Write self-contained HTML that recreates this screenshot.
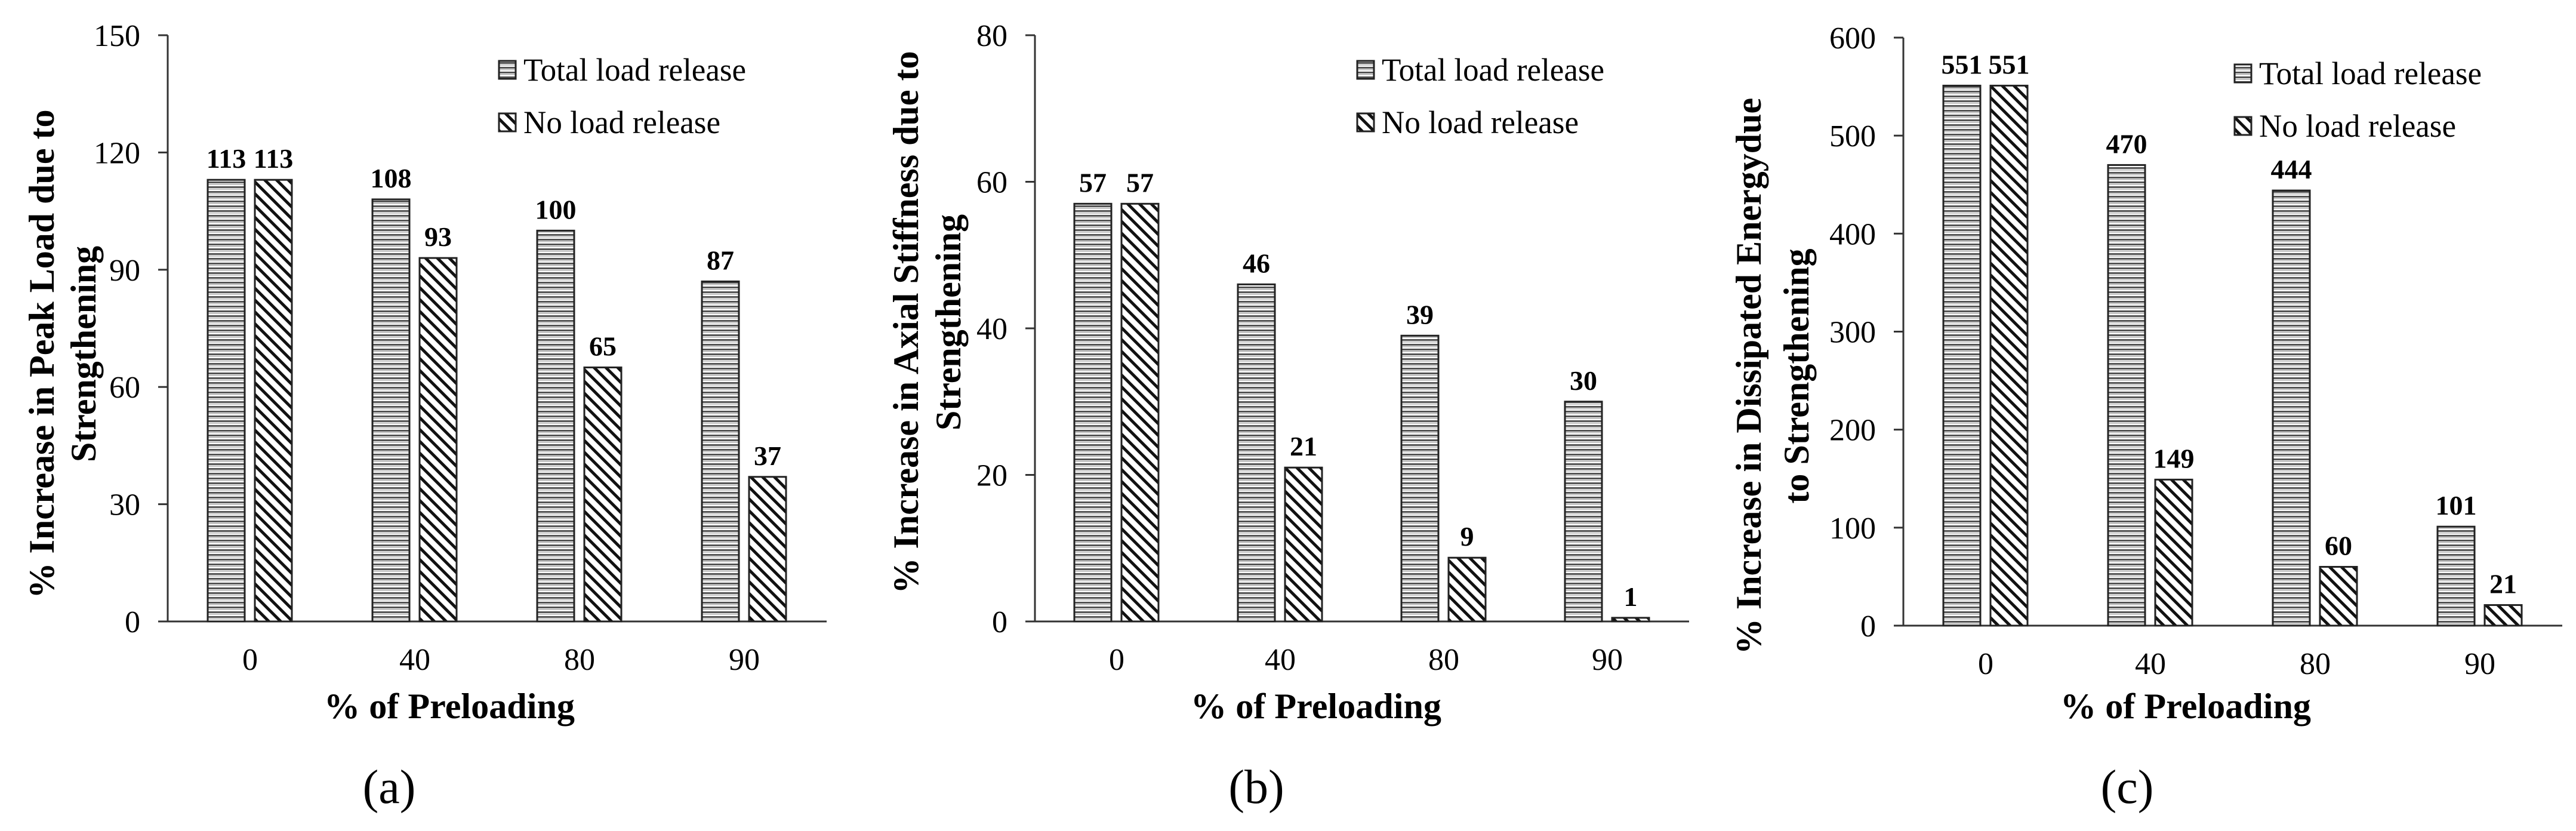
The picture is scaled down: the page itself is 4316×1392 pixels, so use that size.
<!DOCTYPE html>
<html><head><meta charset="utf-8"><style>
html,body{margin:0;padding:0;background:#fff;}
svg{display:block;font-family:"Liberation Serif","DejaVu Serif",serif;}
svg text{font-family:"Liberation Serif","DejaVu Serif",serif;fill:#000;}
</style></head><body>
<svg id="fig" width="4316" height="1392" viewBox="0 0 4316 1392" xmlns="http://www.w3.org/2000/svg" font-family="Liberation Serif, DejaVu Serif, serif">
<defs>
<pattern id="hpat" patternUnits="userSpaceOnUse" width="8" height="8">
<rect width="8" height="8" fill="#fff"/>
<rect y="0" width="8" height="3" fill="#555"/>
<rect y="4" width="8" height="1.5" fill="#aaa"/>
</pattern>
<pattern id="dpat" patternUnits="userSpaceOnUse" width="14" height="14" patternTransform="rotate(-45)">
<rect width="14" height="14" fill="#fff"/>
<rect x="0" width="5" height="14" fill="#111"/>
</pattern>
</defs>
</svg>
<script>
const categories = ["0","40","80","90"];
const seriesNames = ["Total load release","No load release"];
const aTotal = [113,108,100,87];
const aNo = [113,93,65,37];
const aTicks = [0,30,60,90,120,150];
const bTotal = [57,46,39,30];
const bNo = [57,21,8.7,0.5];
const bTicks = [0,20,40,60,80];
const cTotal = [551,470,444,101];
const cNo = [551,149,60,21];
const cTicks = [0,100,200,300,400,500,600];

const NS = "http://www.w3.org/2000/svg";
const FONT = "Liberation Serif, DejaVu Serif, serif";
const svg = document.getElementById("fig");
function mk(tag, attrs, parent, txt){
  const e = document.createElementNS(NS, tag);
  for (const k in attrs) e.setAttribute(k, attrs[k]);
  if (tag === "text") e.setAttribute("font-family", FONT);
  if (txt !== undefined) e.textContent = txt;
  (parent||svg).appendChild(e);
  return e;
}
function chart(cfg){
  const g = mk("g", {});
  
  
  const ymax = cfg.ticks[cfg.ticks.length-1];
  const yScale = v => cfg.y0 - (v/ymax)*(cfg.y0-cfg.yTop);
  const cw = (cfg.x1-cfg.x0)/categories.length;
  const xCenter = i => cfg.x0 + cw*(i+0.5);
  const ya = mk("line",{x1:cfg.x0,y1:cfg.yTop,x2:cfg.x0,y2:cfg.y0,stroke:"#333","stroke-width":3},g);
  
  
  const xa = mk("line",{x1:cfg.x0-16,y1:cfg.y0,x2:cfg.x1,y2:cfg.y0,stroke:"#333","stroke-width":3},g);
  
  
  cfg.ticks.forEach(t=>{
    const y = yScale(t);
    const tm = mk("line",{x1:cfg.x0-16,y1:y,x2:cfg.x0,y2:y,stroke:"#333","stroke-width":3},g);
    
    
    const tl = mk("text",{x:cfg.x0-46,y:y+18,"text-anchor":"end","font-size":52},g,String(t));
    
    
  });
  categories.forEach((c,i)=>{
    const cx = xCenter(i);
    const xl = mk("text",{x:cx,y:cfg.y0+81,"text-anchor":"middle","font-size":52},g,c);
    
    
    [[cfg.s1,"url(#hpat)",-71,"bar-total-load-release"],[cfg.s2,"url(#dpat)",8,"bar-no-load-release"]].forEach(([arr,fill,off,nm])=>{
      const v = arr[i];
      const yt = yScale(v);
      const r = mk("rect",{x:cx+off,y:yt,width:62,height:cfg.y0-yt,fill:fill,stroke:"#222","stroke-width":3},g);
      
      
      const lb = mk("text",{x:cx+off+31,y:yt-20,"text-anchor":"middle","font-size":46,"font-weight":"bold"},g,String(Math.round(v)));
      
      
    });
  });
  const xt = mk("text",{x:cfg.xtX,y:1203,"text-anchor":"middle","font-size":60,"font-weight":"bold"},g,"% of Preloading");
  xt.setAttribute('textLength', 420);
  xt.setAttribute('lengthAdjust','spacingAndGlyphs');
  
  
  cfg.yTitle.forEach((line,k)=>{
    const tx = cfg.ytX[k], ty = cfg.ytY;
    const t = mk("text",{x:tx,y:ty,"text-anchor":"middle","dominant-baseline":"central","font-size":60,"font-weight":"bold",transform:`rotate(-90 ${tx} ${ty})`},g,line);
    
    
  });
  const fills = ["url(#hpat)","url(#dpat)"];
  seriesNames.forEach((s,k)=>{
    const base = cfg.legY + k*88;
    const sq = mk("rect",{x:cfg.legX,y:base-33,width:28,height:30,fill:fills[k],stroke:"#222","stroke-width":3},g);
    
    
    const lt = mk("text",{x:cfg.legX+41,y:base,"font-size":54},g,s);
    lt.setAttribute('textLength', k===0?373:330);
    lt.setAttribute('lengthAdjust','spacingAndGlyphs');
    
    
  });
  const sl = mk("text",{x:cfg.subX,y:1345,"text-anchor":"middle","font-size":80},g,cfg.sub);
  
  
}
chart({name:"chart-a-peak-load",x0:281,x1:1385,yTop:59,y0:1041,ticks:aTicks,s1:aTotal,s2:aNo,
  xtX:753,ytX:[70,140],ytY:593,yTitle:["% Increase in Peak Load due to","Strengthening"],legX:836,legY:135,subX:652,sub:"(a)"});
chart({name:"chart-b-axial-stiffness",x0:1734,x1:2830,yTop:59,y0:1041,ticks:bTicks,s1:bTotal,s2:bNo,
  xtX:2205,ytX:[1518,1589],ytY:540,yTitle:["% Increase in Axial Stiffness due to","Strengthening"],legX:2274,legY:135,subX:2105,sub:"(b)"});
chart({name:"chart-c-dissipated-energy",x0:3189,x1:4293,yTop:63,y0:1048,ticks:cTicks,s1:cTotal,s2:cNo,
  xtX:3662,ytX:[2930,3010],ytY:630,yTitle:["% Increase in Dissipated Energydue","to Strengthening"],legX:3744,legY:141,subX:3564,sub:"(c)"});
</script>
</body></html>
